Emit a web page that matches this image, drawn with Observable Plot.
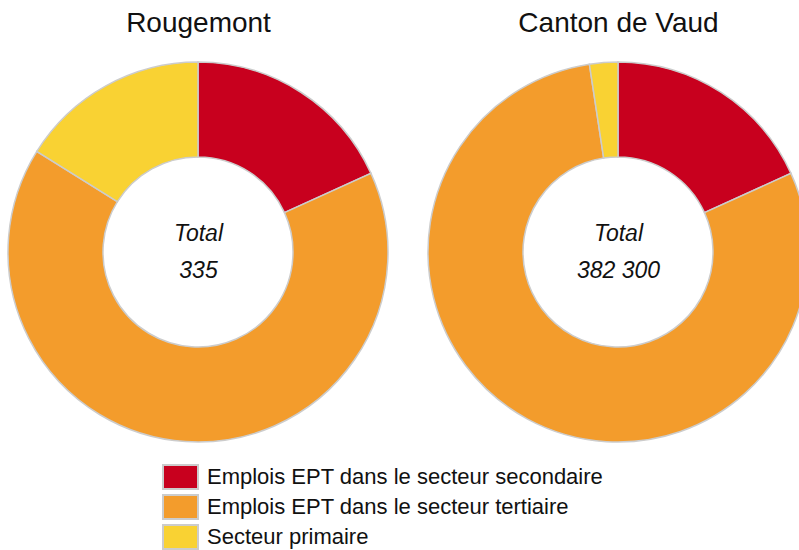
<!DOCTYPE html>
<html>
<head>
<meta charset="utf-8">
<script src="https://cdn.jsdelivr.net/npm/d3@7"></script>
<script src="https://cdn.jsdelivr.net/npm/@observablehq/plot@0.6"></script>
<style>
  html, body { margin: 0; padding: 0; background: #fff; overflow: hidden; }
  body { width: 799px; height: 550px; font-family: "Liberation Sans", Arial, sans-serif; }
  #legend { margin-left: 162px; margin-top: 2px; }
  .row { display: flex; align-items: center; height: 30px; }
  .sw { width: 33px; height: 22px; border: 2px solid #cccccc; box-sizing: content-box; margin-right: 8px; }
  .lab { font-size: 22px; color: #111; line-height: 26px; }
</style>
</head>
<body>
<div id="chart"></div>
<div id="legend"></div>
<script>
const regions = ["Rougemont", "Canton de Vaud"];
const totals = [335, 382300];
const sectors = [
  "Emplois EPT dans le secteur secondaire",
  "Emplois EPT dans le secteur tertiaire",
  "Secteur primaire"
];
const rougemontValues = [61, 220, 54];
const vaudValues = [69600, 303500, 9200];
const colors = ["#c8001e", "#f39c2c", "#f9d233"];

const seriesByRegion = [rougemontValues, vaudValues];
const slices = regions.flatMap((r, i) =>
  sectors.map((s, j) => ({ region: r, sector: s, value: seriesByRegion[i][j] }))
);
const fmt = d3.formatLocale({ decimal: ".", thousands: " ", grouping: [3], currency: ["", ""] }).format(",");

const donutMark = Plot.dot(slices, {
  x: "region",
  y: () => 0,
  fill: "sector",
  render(index, scales, values, dimensions, context) {
    const g = d3.create("svg:g");
    const rOuter = scales.y(0) - scales.y(1);
    const rInner = scales.y(0) - scales.y(0.5);
    const arc = d3.arc().innerRadius(rInner).outerRadius(rOuter);
    for (const r of regions) {
      const idx = Array.from(index).filter(i => slices[i].region === r);
      const pie = d3.pie().sort(null).value(i => slices[i].value)(idx);
      const grp = g.append("g").attr("transform", `translate(${scales.x(r)},${scales.y(0)})`);
      grp.selectAll("path").data(pie).join("path")
        .attr("d", arc)
        .attr("fill", d => values.fill[d.data])
        .attr("stroke", "#cccccc")
        .attr("stroke-width", 1.5);
    }
    return g.node();
  }
});

const chart = Plot.plot({
  width: 799,
  height: 460,
  margin: 0,
  x: { type: "point", domain: regions, range: [198, 618], padding: 0, axis: null },
  y: { domain: [-1, 1], range: [442, 62], axis: null },
  color: { domain: sectors, range: colors },
  style: { fontFamily: "Liberation Sans, Arial, sans-serif", background: "#fff" },
  marks: [
    donutMark,
    Plot.text(regions, { x: d => d, y: () => 1.158, text: d => d, fontSize: 28, lineAnchor: "bottom", fill: "#111" }),
    Plot.text(regions, { x: d => d, y: () => 0.058, text: () => "Total", fontSize: 23, fontStyle: "italic", lineAnchor: "bottom", fill: "#111" }),
    Plot.text(regions, { x: d => d, y: (d, i) => -0.132, text: (d, i) => fmt(totals[i]), fontSize: 23, fontStyle: "italic", lineAnchor: "bottom", fill: "#111" })
  ]
});
document.getElementById("chart").appendChild(chart);

const color = chart.scale("color");
const legend = d3.select("#legend");
sectors.forEach(s => {
  const row = legend.append("div").attr("class", "row");
  row.append("div").attr("class", "sw").style("background", color.apply(s));
  row.append("div").attr("class", "lab").text(s);
});
</script>
</body>
</html>
